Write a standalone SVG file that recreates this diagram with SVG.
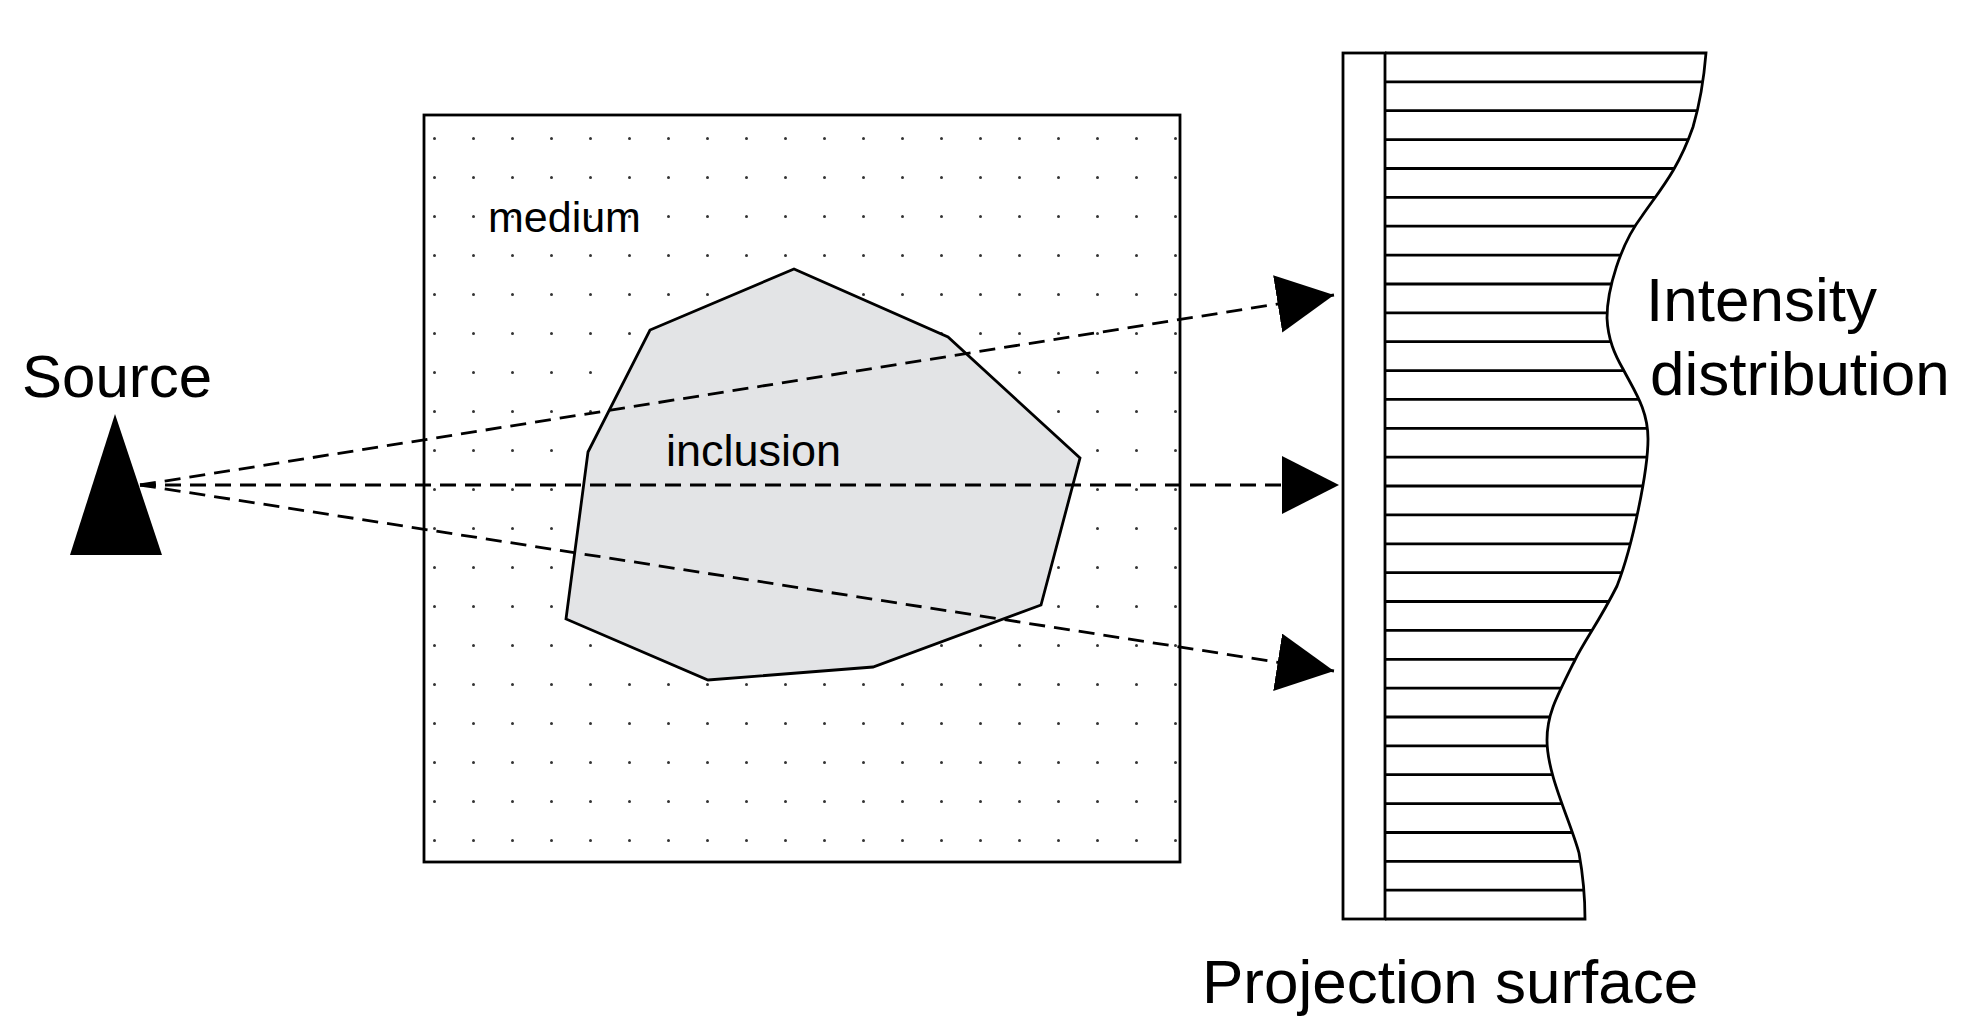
<svg xmlns="http://www.w3.org/2000/svg" width="1986" height="1030" viewBox="0 0 1986 1030">
<style>
text{font-family:"Liberation Sans",Arial,sans-serif;fill:#000}
.ln{stroke:#000;stroke-width:2.8;fill:none}
.ray{stroke:#000;stroke-width:2.8;stroke-dasharray:16 9;fill:none}
</style>
<defs>
<pattern id="dots" x="433" y="137" width="39" height="39" patternUnits="userSpaceOnUse">
<circle cx="1.5" cy="1.5" r="1.5" fill="#333"/>
</pattern>
<marker id="ah" markerUnits="userSpaceOnUse" markerWidth="60" markerHeight="60" refX="57" refY="29" orient="auto">
<path d="M0,0 L57,29 L0,58 Z" fill="#000"/>
</marker>
<clipPath id="cl">
<path d="M1385,53 L1706,53 C1703,90 1698,110 1693,127 C1678,170 1660,190 1642,216 C1620,245 1607,290 1607,318 C1608,340 1615,355 1623,369 C1635,392 1648,410 1648,439 C1648,470 1633,545 1617,586 C1600,620 1585,640 1575,660 C1555,700 1547,715 1547,740 C1547,775 1570,820 1579,853 C1583,875 1585,900 1585,919 L1385,919 Z"/>
</clipPath>
</defs>
<rect width="1986" height="1030" fill="#fff"/>
<g id="medium">
<rect x="424" y="115" width="756" height="747" class="ln" style="fill:url(#dots)"/>
<text x="488" y="232" font-size="43">medium</text>
</g>
<g id="inclusion">
<polygon points="794,269 948,337 1080,458 1041,605 873,667 708,680 566,619 588,452 650,330" class="ln" style="fill:#e3e4e6"/>
<text x="666" y="466" font-size="45">inclusion</text>
</g>
<g id="source">
<polygon points="115,414 70,555 162,555" fill="#000"/>
<text x="22" y="397" font-size="60">Source</text>
</g>
<g id="surface">
<g clip-path="url(#cl)" stroke="#000" stroke-width="2.8">
<path d="M1385,81.9H1720M1385,110.7H1720M1385,139.6H1720M1385,168.5H1720M1385,197.3H1720M1385,226.2H1720M1385,255.1H1720M1385,284H1720M1385,312.8H1720M1385,341.7H1720M1385,370.6H1720M1385,399.4H1720M1385,428.3H1720M1385,457.2H1720M1385,486H1720M1385,514.9H1720M1385,543.8H1720M1385,572.7H1720M1385,601.5H1720M1385,630.4H1720M1385,659.3H1720M1385,688.1H1720M1385,717H1720M1385,745.9H1720M1385,774.7H1720M1385,803.6H1720M1385,832.5H1720M1385,861.4H1720M1385,890.2H1720"/>
</g>
<path class="ln" d="M1385,53 L1706,53 C1703,90 1698,110 1693,127 C1678,170 1660,190 1642,216 C1620,245 1607,290 1607,318 C1608,340 1615,355 1623,369 C1635,392 1648,410 1648,439 C1648,470 1633,545 1617,586 C1600,620 1585,640 1575,660 C1555,700 1547,715 1547,740 C1547,775 1570,820 1579,853 C1583,875 1585,900 1585,919 L1385,919"/>
<rect x="1343" y="53" width="42" height="866" class="ln"/>
<text x="1202" y="1003" font-size="62">Projection surface</text>
</g>
<g id="intensity">
<text x="1646" y="321" font-size="62">Intensity</text>
<text x="1650" y="395" font-size="62">distribution</text>
</g>
<g id="connectors">
<line class="ray" x1="140" y1="485" x2="1334" y2="295" marker-end="url(#ah)"/>
<line class="ray" x1="140" y1="485" x2="1339" y2="485" marker-end="url(#ah)"/>
<line class="ray" x1="140" y1="485" x2="1334" y2="671" marker-end="url(#ah)"/>
</g>
</svg>
